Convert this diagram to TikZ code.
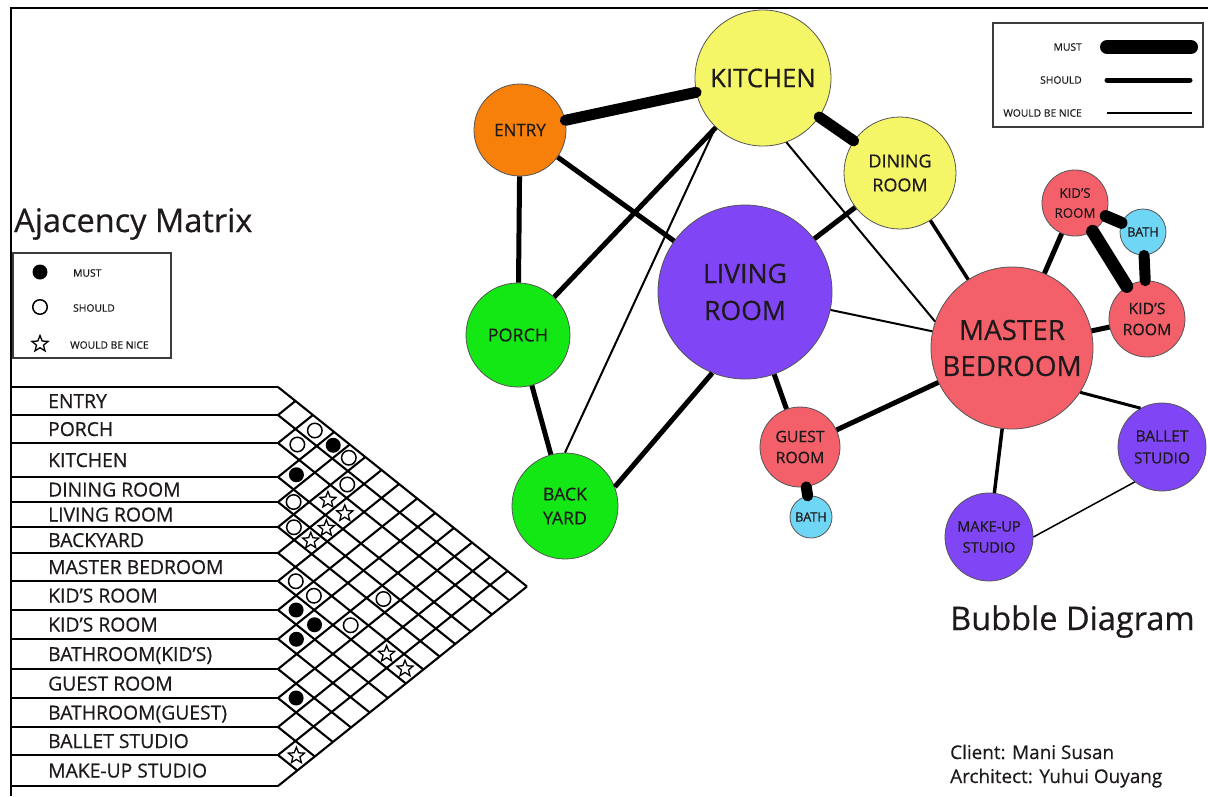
\documentclass[tikz,border=0pt]{standalone}
\usepackage{fontspec}
\setmainfont{Open Sans}[FakeBold=0.5]
\usetikzlibrary{shapes.geometric}
\definecolor{cOrange}{RGB}{246,128,10}
\definecolor{cYellow}{RGB}{245,245,104}
\definecolor{cPurple}{RGB}{128,70,246}
\definecolor{cGreen}{RGB}{20,232,20}
\definecolor{cRed}{RGB}{244,96,106}
\definecolor{cCyan}{RGB}{112,214,245}
\definecolor{cText}{RGB}{30,26,28}
\definecolor{cEdge}{RGB}{85,85,85}
\definecolor{cGray}{RGB}{60,60,60}
\begin{document}
\begin{tikzpicture}[x=1pt,y=-1pt,
  bubble/.style={circle,draw=cEdge,line width=0.8pt,inner sep=0pt},
  btext/.style={align=center,text=cText,inner sep=0pt},
  must/.style={line width=11pt,line cap=round},
  should/.style={line width=5pt},
  mid/.style={line width=3.5pt},
  nice/.style={line width=2pt},
  rowlab/.style={anchor=base west,font=\fontsize{19.3}{22}\selectfont,inner sep=0pt,text=cText},
  lgtext/.style={font=\fontsize{10.3}{12}\selectfont,inner sep=0pt,text=cText},
  mkF/.style={circle,fill=black,minimum size=15pt,inner sep=0pt},
  mkO/.style={circle,draw=black,line width=1.5pt,fill=white,minimum size=14.5pt,inner sep=0pt},
  mkS/.style={star,star points=5,star point ratio=2.3,draw=black,line width=1.3pt,fill=white,minimum size=17pt,inner sep=0pt},
  mxline/.style={line width=2.1pt,line join=miter},
]
\useasboundingbox (0,0) rectangle (1208,796);
\fill[white] (0,0) rectangle (1208,796);
% frame
\draw[line width=2.5pt] (11,796) -- (11,8) -- (1208,8);

% ---------- adjacency matrix ----------
\node[anchor=base west,font=\fontsize{32.5}{36}\selectfont,inner sep=0pt,text=cText] (mtitle) at (14,232) {Ajacency Matrix};
\draw[line width=1.2pt,draw=cGray] (13,253) rectangle (171,358);
\node[mkF] (lgF) at (40,272) {};
\node[mkO] (lgO) at (40,307) {};
\node[mkS] (lgS) at (40,344) {};
\node[lgtext,anchor=west] (lgFt) at (73,273) {MUST};
\node[lgtext,anchor=west] (lgOt) at (73,308) {SHOULD};
\node[lgtext,anchor=west] (lgSt) at (70,345) {WOULD BE NICE};

\def\bnd{{387,415,443,477,502,527,553,581,610,639,669,698,727,755,786}}
\def\mids{{401,429,460,489.5,514.5,540,567,595.5,624.5,654,683.5,712.5,741,770.5}}
\foreach \k in {0,...,14}{
  \pgfmathsetmacro\yb{\bnd[\k]}
  \pgfmathsetmacro\xd{278+(786-\yb)*0.624}
  \pgfmathsetmacro\yd{(786+\yb)/2}
  \pgfmathsetmacro\xu{278+(\yb-387)*0.624}
  \pgfmathsetmacro\yu{(387+\yb)/2}
  \draw[mxline] (12,\yb) -- (278,\yb);
  \draw[mxline] (\xu,\yu) -- (278,\yb) -- (\xd,\yd);
}
\foreach \t [count=\n from 0] in {ENTRY,PORCH,KITCHEN,DINING ROOM,LIVING ROOM,BACKYARD,MASTER BEDROOM,KID’S ROOM,KID’S ROOM,BATHROOM(KID’S),GUEST ROOM,BATHROOM(GUEST),BALLET STUDIO,MAKE-UP STUDIO}{
  \pgfmathsetmacro\ym{\mids[\n]+7}
  \node[rowlab] (row\n) at (48,\ym) {\t};
}
\foreach \i/\j/\t in {0/2/O,0/3/F,1/2/O,0/4/O,2/3/F,1/5/O,2/5/S,3/4/O,2/6/S,3/6/S,4/5/O,4/6/S,6/7/O,6/8/O,4/10/O,7/8/F,7/9/F,6/10/O,8/9/F,6/12/S,6/13/S,10/11/F,12/13/S}{
  \pgfmathsetmacro\ma{\mids[\i]}
  \pgfmathsetmacro\mb{\mids[\j]}
  \pgfmathsetmacro\mx{278+(\mb-\ma)*0.624}
  \pgfmathsetmacro\my{(\ma+\mb)/2}
  \node[mk\t] (m\i-\j) at (\mx,\my) {};
}

% ---------- bubbles ----------
\node[bubble,fill=cYellow,minimum size=136pt] (kitchen) at (763,78) {};
\node[bubble,fill=cOrange,minimum size=92pt] (entry) at (520,130) {};
\node[bubble,fill=cYellow,minimum size=112pt] (dining) at (900,173) {};
\node[bubble,fill=cPurple,minimum size=174pt] (living) at (745,292) {};
\node[bubble,fill=cGreen,minimum size=104pt] (porch) at (518,335) {};
\node[bubble,fill=cGreen,minimum size=106pt] (backyard) at (565,506) {};
\node[bubble,fill=cRed,minimum size=162pt] (master) at (1012,348) {};
\node[bubble,fill=cRed,minimum size=66pt] (kidA) at (1075,203) {};
\node[bubble,fill=cCyan,minimum size=46pt] (bathK) at (1143,232) {};
\node[bubble,fill=cRed,minimum size=76pt] (kidB) at (1147,319) {};
\node[bubble,fill=cRed,minimum size=80pt] (guest) at (800,447) {};
\node[bubble,fill=cCyan,minimum size=42pt] (bathG) at (811,517) {};
\node[bubble,fill=cPurple,minimum size=88pt] (makeup) at (989,537) {};
\node[bubble,fill=cPurple,minimum size=88pt] (ballet) at (1162,447) {};

% connectors
\draw[must] (entry) -- (kitchen);
\draw[must] (kitchen) -- (dining);
\draw[should] (entry) -- (porch);
\draw[should] (entry) -- (living);
\draw[should] (kitchen) -- (porch);
\draw[nice] (kitchen.226) -- (backyard.90);
\draw[nice] (kitchen.290) -- (master.161);
\draw[should] (dining) -- (living);
\draw[mid] (dining) -- (master);
\draw[nice] (living) -- (master);
\draw[should] (porch) -- (backyard);
\draw[should] (backyard.21) -- (living.248);
\draw[should] (living) -- (guest);
\draw[should] (guest) -- (master);
\draw[must] (guest) -- (bathG);
\draw[should] (master) -- (kidA);
\draw[line width=12pt,line cap=round] (kidA) -- (bathK);
\draw[line width=13pt,line cap=round] (kidA) -- (kidB);
\draw[must] (bathK) -- (kidB);
\draw[should] (master) -- (kidB);
\draw[line width=3pt] (master.-33) -- (ballet.119);
\draw[mid] (master) -- (makeup);
\draw[line width=1.5pt] (makeup.0) -- (ballet.232);

% bubble labels
\node[btext,font=\fontsize{25.7}{30}\selectfont] (kitchenT) at (kitchen) {KITCHEN};
\node[btext,font=\fontsize{17}{20}\selectfont] (entryT) at (entry) {ENTRY};
\node[btext,font=\fontsize{17.9}{24}\selectfont] (diningT) at (dining) {DINING\\ROOM};
\node[btext,font=\fontsize{26.6}{37}\selectfont] (livingT) at (living) {LIVING\\ROOM};
\node[btext,font=\fontsize{17.9}{21}\selectfont] (porchT) at (porch) {PORCH};
\node[btext,font=\fontsize{17.7}{24}\selectfont] (backyardT) at (backyard) {BACK\\YARD};
\node[btext,font=\fontsize{27.8}{36}\selectfont] (masterT) at (master) {MASTER\\BEDROOM};
\node[btext,font=\fontsize{13.3}{20}\selectfont] (kidAT) at (kidA) {KID’S\\ROOM};
\node[btext,font=\fontsize{12.7}{16}\selectfont] (bathKT) at (bathK) {BATH};
\node[btext,font=\fontsize{15.8}{21}\selectfont] (kidBT) at (kidB) {KID’S\\ROOM};
\node[btext,font=\fontsize{15.8}{21}\selectfont] (guestT) at (guest) {GUEST\\ROOM};
\node[btext,font=\fontsize{12.7}{16}\selectfont] (bathGT) at (bathG) {BATH};
\node[btext,font=\fontsize{14.6}{21}\selectfont] (makeupT) at (makeup) {MAKE-UP\\STUDIO};
\node[btext,font=\fontsize{15.5}{22}\selectfont] (balletT) at (ballet) {BALLET\\STUDIO};

% line legend
\draw[line width=1.2pt,draw=cGray] (993,23) rectangle (1203,127);
\node[lgtext,anchor=east] (lgMust) at (1082,47) {MUST};
\node[lgtext,anchor=east] (lgShould) at (1082,80) {SHOULD};
\node[lgtext,anchor=east] (lgNice) at (1082,113) {WOULD BE NICE};
\coordinate (lgMa) at (1107,47); \coordinate (lgMb) at (1191,47);
\coordinate (lgSa) at (1107,80); \coordinate (lgSb) at (1190,80);
\coordinate (lgNa) at (1107,113); \coordinate (lgNb) at (1192,113);
\draw[line width=14pt,line cap=round] (lgMa) -- (lgMb);
\draw[line width=5pt,line cap=round] (lgSa) -- (lgSb);
\draw[line width=2pt] (lgNa) -- (lgNb);

% titles
\node[anchor=base west,font=\fontsize{32.5}{36}\selectfont,inner sep=0pt,text=cText] (btitle) at (950,630) {Bubble Diagram};
\node[anchor=base west,font=\fontsize{18.9}{24}\selectfont,inner sep=0pt,text=cText] (client) at (950,759) {Client: Mani Susan};
\node[anchor=base west,font=\fontsize{18.9}{24}\selectfont,inner sep=0pt,text=cText] (arch) at (950,783) {Architect: Yuhui Ouyang};
\end{tikzpicture}
\end{document}
